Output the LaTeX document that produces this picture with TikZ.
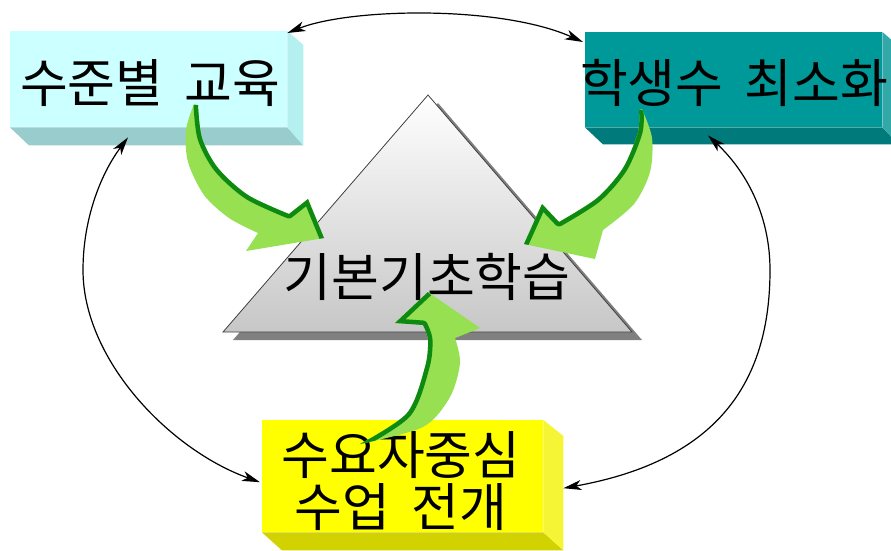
\documentclass[tikz,border=0pt]{standalone}
\usepackage{fontspec}
\newfontfamily\kr{Noto Sans CJK KR}
\usetikzlibrary{arrows.meta,calc}
\definecolor{cyanF}{HTML}{CCFFFF}
\definecolor{cyanB}{HTML}{99CCCC}
\definecolor{cyanR}{HTML}{B5F0F0}
\definecolor{tealF}{HTML}{009999}
\definecolor{tealB}{HTML}{007A7A}
\definecolor{tealR}{HTML}{33A8A8}
\definecolor{yelF}{HTML}{FFFF00}
\definecolor{yelB}{HTML}{D2D200}
\definecolor{yelR}{HTML}{F5F535}
\definecolor{gLight}{HTML}{96E052}
\definecolor{gDark}{HTML}{0E8A12}
\definecolor{shadowgray}{HTML}{808080}
\tikzset{
  frontbox/.style={minimum width=#1, inner sep=0pt, anchor=north west},
  lbl/.style={font=\kr\fontsize{52}{52}\selectfont, inner sep=0pt, align=center},
  cyc/.style={draw=black, line width=1.2pt, {Stealth[length=18pt,width=10pt,inset=5pt]}-{Stealth[length=18pt,width=10pt,inset=5pt]}},
}
\newcommand{\wsp}{\hspace{0.4em}}
\begin{document}
\begin{tikzpicture}[x=1pt,y=-1pt]
\clip (0,0) rectangle (891,550);
\fill[white] (0,0) rectangle (891,550);

% boxes
\node[frontbox=277pt, minimum height=96pt, fill=cyanF] (b1) at (10,31) {};
\fill[cyanB] (b1.south west) -- (b1.south east) -- ($(b1.south east)+(16,18)$) -- ($(b1.south west)+(19,18)$) -- cycle;
\fill[cyanR] (b1.north east) -- ($(b1.north east)+(16,14)$) -- ($(b1.south east)+(16,18)$) -- (b1.south east) -- cycle;

\node[frontbox=297pt, minimum height=95pt, fill=tealF] (b2) at (585,32) {};
\fill[tealB] (b2.south west) -- (b2.south east) -- ($(b2.south east)+(16,17)$) -- ($(b2.south west)+(18,17)$) -- cycle;
\fill[tealR] (b2.north east) -- ($(b2.north east)+(16,14)$) -- ($(b2.south east)+(16,17)$) -- (b2.south east) -- cycle;

\node[frontbox=281pt, minimum height=112pt, fill=yelF] (b3) at (262,420) {};
\fill[yelB] (b3.south west) -- (b3.south east) -- ($(b3.south east)+(20,18)$) -- ($(b3.south west)+(20,18)$) -- cycle;
\fill[yelR] (b3.north east) -- ($(b3.north east)+(20,16)$) -- ($(b3.south east)+(20,18)$) -- (b3.south east) -- cycle;

% cycle arcs
\draw[cyc] ($(b1.north east)+(0,2)$) .. controls (350,8) and (500,5) .. ($(b2.north west)+(-2,10)$);
\draw[cyc] ($(b1.south west)+(118,10)$) .. controls (100,175) and (83,220) .. (83,270) .. controls (83,360) and (170,450) .. ($(b3.west)+(-2,6)$);
\draw[cyc] ($(b2.south west)+(123,8)$) .. controls (750,175) and (770,220) .. (770,270) .. controls (770,380) and (720,460) .. ($(b3.east)+(20,12)$);

% triangle
\coordinate (apex) at (428,95);
\coordinate (tl) at (223,332);
\coordinate (tr) at (632,332);
\fill[shadowgray] ($(apex)+(10,8)$) -- ($(tl)+(10,8)$) -- ($(tr)+(10,8)$) -- cycle;
\shade[top color=white, bottom color=black!22, draw=black!75, line width=0.8pt] (apex) -- (tl) -- (tr) -- cycle;

% texts
\node[lbl] (t1) at (150,83) {수준별\wsp 교육};
\node[lbl] (t2) at (734,83) {학생수\wsp 최소화};
\node[lbl] (t3) at (401,481) {수요자중심\\수업\wsp 전개};
\node[lbl] (t4) at (427,277) {기본기초학습};

% green arrow 1 (b1 -> triangle)
\begin{scope}
\clip plot[smooth] coordinates {(194,104) (186,130) (188,162) (204,195) (229,218) (258,233)} -- (246,251) -- (324,238) -- (308,199) -- (289,214) -- plot[smooth] coordinates {(289,214) (248,195) (218,168) (202,138) (198,105)} -- cycle;
\fill[gLight] (150,90) rectangle (340,260);
\draw[gDark, line width=9pt, line join=round] plot[smooth] coordinates {(198,105) (202,138) (218,168) (248,195) (289,214)} -- (308,199) -- (324,238);
\end{scope}

% green arrow 2 (b2 -> triangle)
\begin{scope}
\clip plot[smooth] coordinates {(642,109) (652,138) (650,172) (634,204) (603,230)} -- (595,259) -- (524,244) -- (542,204) -- (559,222) -- plot[smooth] coordinates {(559,222) (597,198) (623,168) (638,132) (639,110)} -- cycle;
\fill[gLight] (500,90) rectangle (680,270);
\draw[gDark, line width=9pt, line join=round] plot[smooth] coordinates {(639,110) (638,132) (623,168) (597,198) (559,222)} -- (542,204) -- (524,244);
\end{scope}

% green arrow 3 (b3 -> triangle)
\begin{scope}
\clip plot[smooth] coordinates {(360,444) (407,413) (425,367) (428,340) (423,325)} -- (395,323) -- (428,292) -- (480,328) -- (455,338) -- plot[smooth] coordinates {(455,338) (460,363) (450,397) (423,427) (360,444)} -- cycle;
\fill[gLight] (340,280) rectangle (500,460);
\draw[gDark, line width=9pt, line join=round] plot[smooth] coordinates {(360,444) (407,413) (425,367) (428,340) (423,325)} -- (395,323) -- (428,292);
\end{scope}
\end{tikzpicture}
\end{document}
